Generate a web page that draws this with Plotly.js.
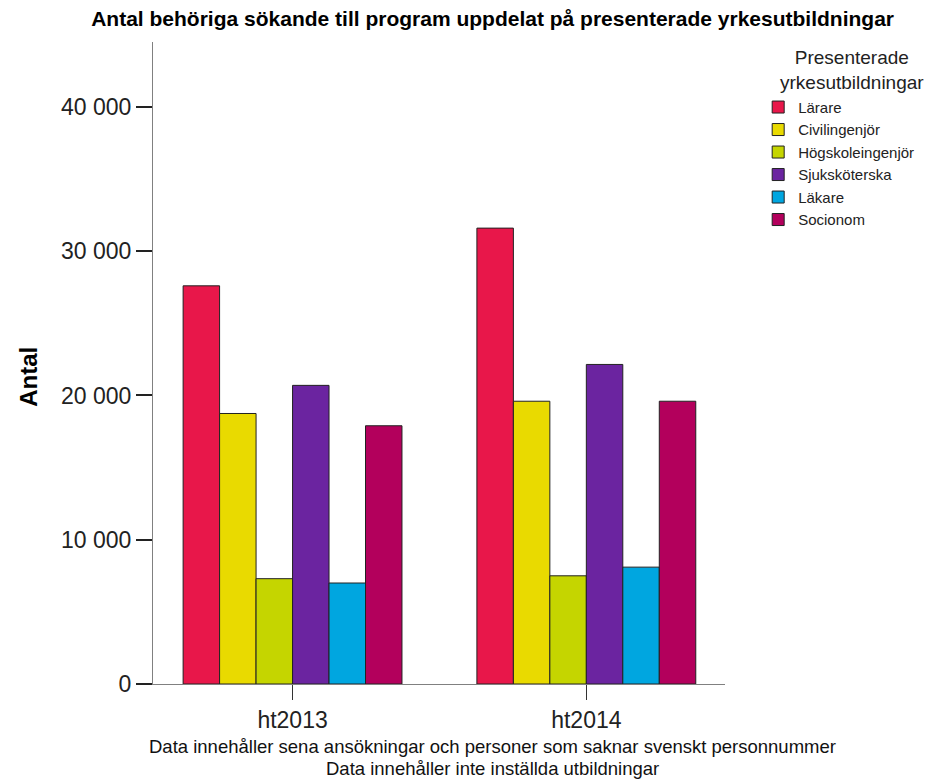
<!DOCTYPE html>
<html>
<head>
<meta charset="utf-8">
<script src="https://cdn.plot.ly/plotly-3.0.1.min.js"></script>
<style>html,body{margin:0;padding:0;background:#fff;}#chart{width:933px;height:783px;}</style>
</head>
<body>
<div id="chart"></div>
<script>
const categories = ["ht2013", "ht2014"];
const seriesNames = ["Lärare", "Civilingenjör", "Högskoleingenjör", "Sjuksköterska", "Läkare", "Socionom"];
const larare = [27600, 31600];
const civilingenjor = [18750, 19600];
const hogskoleingenjor = [7300, 7500];
const sjukskoterska = [20700, 22150];
const lakare = [7000, 8100];
const socionom = [17900, 19600];
const seriesValues = [larare, civilingenjor, hogskoleingenjor, sjukskoterska, lakare, socionom];
const seriesColors = ["#E8174A", "#E9DA00", "#C5D500", "#6B24A0", "#00A6E0", "#B3005C"];
const yTicks = [0, 10000, 20000, 30000, 40000];
const legendTitle = "Presenterade<br>yrkesutbildningar";

const FONT = "Liberation Sans, Arial, sans-serif";

const traces = seriesNames.map((name, i) => ({
  type: "bar",
  name: name,
  x: categories,
  y: seriesValues[i],
  marker: { color: seriesColors[i], line: { color: "#222", width: 1 } },
  hoverinfo: "x+y+name"
}));

const layout = {
  width: 933,
  height: 783,
  paper_bgcolor: "#fff",
  plot_bgcolor: "#fff",
  separators: ", ",
  margin: { l: 153, r: 208, t: 42, b: 99, pad: 0, autoexpand: false },
  barmode: "group",
  bargap: 0.255,
  bargroupgap: 0,
  font: { family: FONT, color: "#222" },
  title: {
    text: "<b>Antal behöriga sökande till program uppdelat på presenterade yrkesutbildningar</b>",
    font: { family: FONT, size: 21, color: "#000" },
    xref: "container", x: 0.528, xanchor: "center",
    yref: "container", y: 0.976, yanchor: "middle"
  },
  xaxis: {
    range: [-0.475, 1.472],
    showline: true, linecolor: "#808080", linewidth: 1,
    ticks: "outside", ticklen: 15, tickcolor: "#333", tickwidth: 1,
    tickfont: { family: FONT, size: 23, color: "#222" },
    showgrid: false, zeroline: false, fixedrange: true
  },
  yaxis: {
    range: [0, 44500],
    tickvals: yTicks,
    tickformat: ",d",
    showline: true, linecolor: "#808080", linewidth: 1,
    ticks: "outside", ticklen: 16, tickcolor: "#222", tickwidth: 2,
    tickfont: { family: FONT, size: 23, color: "#222" },
    showgrid: false, zeroline: false
  },
  legend: {
    x: 1.058, xanchor: "left", xref: "paper",
    y: 0.924, yanchor: "top",
    bgcolor: "rgba(0,0,0,0)",
    font: { family: FONT, size: 15, color: "#222" },
    tracegroupgap: 0, itemwidth: 30
  },
  annotations: [
    { text: legendTitle, align: "center", xref: "paper", yref: "paper", x: 1.222, y: 0.957, xanchor: "center", yanchor: "middle", showarrow: false, font: { family: FONT, size: 19, color: "#222" } },
    { text: "<b>Antal</b>", textangle: -90, xref: "paper", yref: "paper", x: -0.218, y: 0.479, xanchor: "center", yanchor: "middle", showarrow: false, font: { family: FONT, size: 24, color: "#000" } },
    { text: "Data innehåller sena ansökningar och personer som saknar svenskt personnummer", xref: "paper", yref: "paper", x: 0.593, y: -0.098, xanchor: "center", yanchor: "middle", showarrow: false, font: { family: FONT, size: 18.5, color: "#111" } },
    { text: "Data innehåller inte inställda utbildningar", xref: "paper", yref: "paper", x: 0.593, y: -0.1315, xanchor: "center", yanchor: "middle", showarrow: false, font: { family: FONT, size: 18.5, color: "#111" } }
  ]
};

Plotly.newPlot("chart", traces, layout, { displayModeBar: false });
</script>
</body>
</html>
